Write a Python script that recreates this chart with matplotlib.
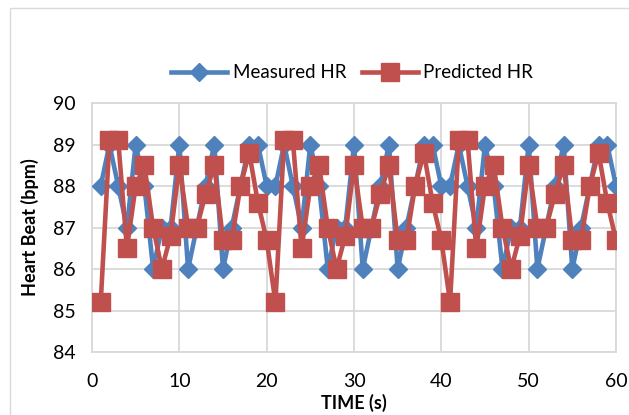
import matplotlib
matplotlib.use("Agg")
import matplotlib.pyplot as plt
from matplotlib.patches import Rectangle

plt.rcParams["font.family"] = ["Lato", "DejaVu Sans"]

# time stamps (s)
time_s = list(range(1, 61))

measured_hr = [88, 89, 88, 87, 89, 88, 86, 87, 87, 89,
               86, 87, 88, 89, 86, 87, 88, 89, 89, 88,
               88, 89, 88, 87, 89, 88, 86, 87, 87, 89,
               86, 87, 88, 89, 86, 87, 88, 89, 89, 88,
               88, 89, 88, 87, 89, 88, 86, 87, 87, 89,
               86, 87, 88, 89, 86, 87, 88, 89, 89, 88]

predicted_hr = [85.2, 89.1, 89.1, 86.5, 88.0, 88.5, 87.0, 86.0, 86.8, 88.5,
                87.0, 87.0, 87.8, 88.5, 86.7, 86.7, 88.0, 88.8, 87.6, 86.7,
                85.2, 89.1, 89.1, 86.5, 88.0, 88.5, 87.0, 86.0, 86.8, 88.5,
                87.0, 87.0, 87.8, 88.5, 86.7, 86.7, 88.0, 88.8, 87.6, 86.7,
                85.2, 89.1, 89.1, 86.5, 88.0, 88.5, 87.0, 86.0, 86.8, 88.5,
                87.0, 87.0, 87.8, 88.5, 86.7, 86.7, 88.0, 88.8, 87.6, 86.7]

x_ticks = [0, 10, 20, 30, 40, 50, 60]
y_ticks = [84, 85, 86, 87, 88, 89, 90]

BLUE = "#4F81BD"
RED = "#C0504D"
GRID = "#D9D9D9"

fig = plt.figure(figsize=(6.29, 4.15), dpi=100)
# outer chart border
fig.patches.append(Rectangle((10 / 629, -0.05), 1.2, 1.03, transform=fig.transFigure,
                             fill=False, edgecolor=GRID, lw=1.0))

ax = fig.add_axes([92 / 629, 63 / 415, 524 / 629, 249 / 415])
ax.plot(time_s, measured_hr, color=BLUE, lw=3.3, marker="D", ms=9.5,
        label="Measured HR", zorder=3)
ax.plot(time_s, predicted_hr, color=RED, lw=3.3, marker="s", ms=13,
        label="Predicted HR", zorder=4)

ax.set_xlim(0, 60)
ax.set_ylim(84, 90)
ax.set_xticks(x_ticks)
ax.set_yticks(y_ticks)
ax.grid(True, color=GRID, lw=1.3)
ax.set_axisbelow(True)
for sp in ax.spines.values():
    sp.set_color(GRID)
    sp.set_linewidth(1.3)
ax.tick_params(axis="x", length=0, labelsize=14, colors="black", pad=15)
ax.tick_params(axis="y", length=0, labelsize=14, colors="black", pad=12)

ax.set_xlabel("TIME (s)", fontsize=13, fontweight="bold", labelpad=3)
ax.set_ylabel("Heart Beat (bpm)", fontsize=13, fontweight="bold", labelpad=10)

fig.legend(loc="center", bbox_to_anchor=(0.56, 0.825), ncol=2, frameon=False,
           fontsize=13.5, handlelength=3.0, columnspacing=0.8, handletextpad=0.3)

fig.savefig("out.png", dpi=100)
